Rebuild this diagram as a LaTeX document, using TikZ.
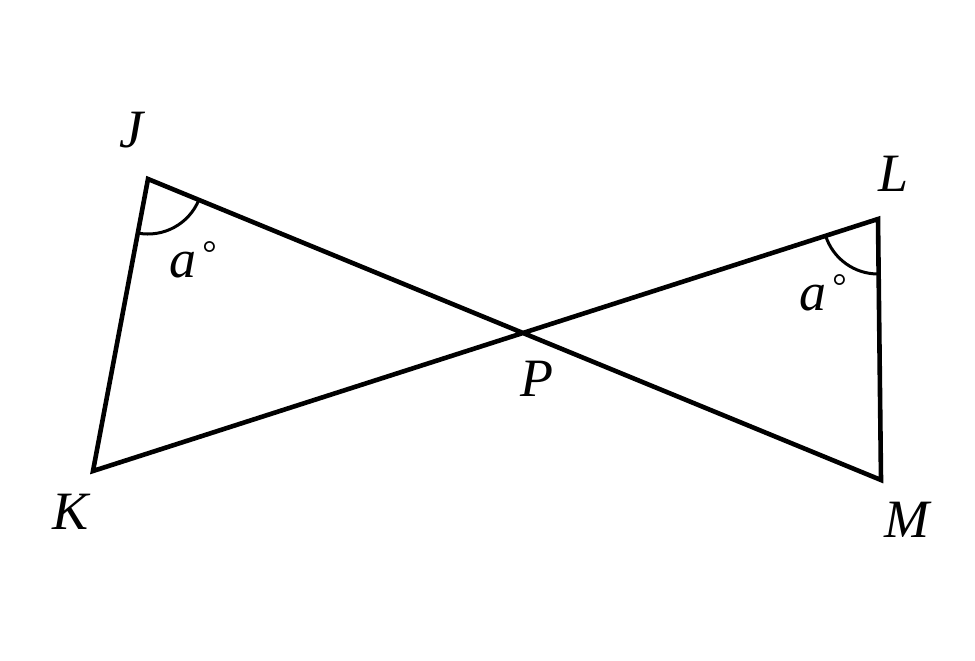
\documentclass[tikz,border=0pt]{standalone}
\usepackage{fontspec}
\setmainfont{Liberation Serif}
\usetikzlibrary{angles}

\tikzset{
  side/.style={line width=2.3pt, line join=miter},
  vlabel/.style={font=\fontsize{27}{30}\selectfont\itshape, inner sep=0},
  anglemark/.style={draw, line width=1.5pt, angle radius=27.5pt}
}
\newcommand{\degmark}{\kern3pt\raisebox{6pt}{\fontsize{18}{18}\selectfont\upshape °}}

\begin{document}
\begin{tikzpicture}[x=0.5pt, y=-0.5pt]
\useasboundingbox (0,0) rectangle (975,660);
% corners of the two triangles
\coordinate (J) at (148,179);
\coordinate (K) at (93,471);
\coordinate (L) at (878,219);
\coordinate (M) at (881,480);
\coordinate (P) at (intersection of J--M and K--L);
% sides
\draw[side] (K) -- (J) -- (M) -- (L) -- cycle;
% equal angles
\pic[anglemark] {angle = K--J--P};
\pic[anglemark] {angle = P--L--M};
% labels
\node[vlabel] (labJ) at (131,130) {J};
\node[vlabel] (labK) at (71,512) {K};
\node[vlabel] (labL) at (894,174) {L};
\node[vlabel] (labM) at (907,520) {M};
\node[vlabel] (labP) at (537,379) {P};
\node[vlabel] (angJ) at (193,260) {a\degmark};
\node[vlabel] (angL) at (823,293) {a\degmark};
\end{tikzpicture}
\end{document}
